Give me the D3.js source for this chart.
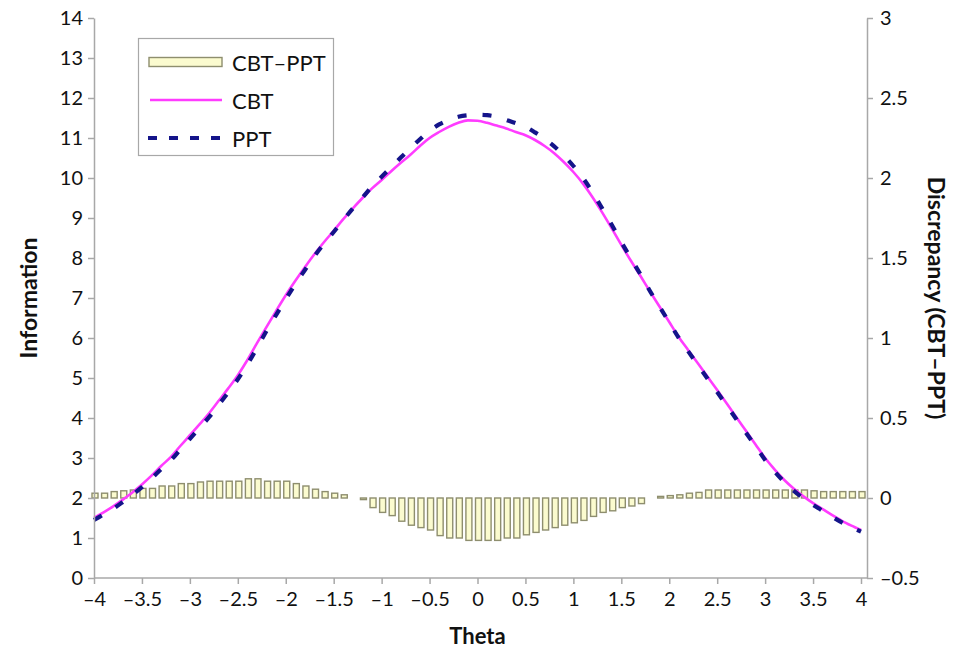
<!DOCTYPE html>
<html>
<head>
<meta charset="utf-8">
<script src="https://cdn.jsdelivr.net/npm/d3@7"></script>
<style>
  html, body { margin: 0; padding: 0; background: #fff; }
  svg { display: block; }
  text { font-family: "Lato", "Open Sans", sans-serif; fill: #111; }
</style>
</head>
<body>
<svg id="chart" width="959" height="654"></svg>
<script>
// Theta grid (step 0.1 from -4 to 4)
const theta = [
  -4.0,-3.9,-3.8,-3.7,-3.6,-3.5,-3.4,-3.3,-3.2,-3.1,
  -3.0,-2.9,-2.8,-2.7,-2.6,-2.5,-2.4,-2.3,-2.2,-2.1,
  -2.0,-1.9,-1.8,-1.7,-1.6,-1.5,-1.4,-1.3,-1.2,-1.1,
  -1.0,-0.9,-0.8,-0.7,-0.6,-0.5,-0.4,-0.3,-0.2,-0.1,
   0.0, 0.1, 0.2, 0.3, 0.4, 0.5, 0.6, 0.7, 0.8, 0.9,
   1.0, 1.1, 1.2, 1.3, 1.4, 1.5, 1.6, 1.7, 1.8, 1.9,
   2.0, 2.1, 2.2, 2.3, 2.4, 2.5, 2.6, 2.7, 2.8, 2.9,
   3.0, 3.1, 3.2, 3.3, 3.4, 3.5, 3.6, 3.7, 3.8, 3.9, 4.0
];

// Test information, computer-based test
const cbt = [
  1.50,1.64,1.79,1.96,2.14,2.34,2.56,2.80,3.02,3.30,
  3.57,3.84,4.12,4.43,4.74,5.07,5.45,5.87,6.28,6.68,
  7.07,7.43,7.77,8.10,8.40,8.68,8.97,9.24,9.50,9.74,
  9.95,10.17,10.38,10.58,10.80,11.00,11.15,11.28,11.38,11.44,
  11.43,11.38,11.31,11.24,11.15,11.07,10.95,10.80,10.62,10.40,
  10.15,9.86,9.52,9.14,8.74,8.33,7.93,7.55,7.16,6.78,
  6.40,6.02,5.69,5.36,5.03,4.70,4.36,4.02,3.68,3.34,
  3.00,2.71,2.45,2.23,2.04,1.87,1.72,1.57,1.43,1.31,1.20
];

// Test information, paper-and-pencil test
const ppt = [
  1.45,1.59,1.73,1.90,2.08,2.27,2.49,2.72,2.94,3.21,
  3.48,3.75,4.02,4.33,4.64,4.97,5.34,5.75,6.18,6.58,
  6.97,7.35,7.70,8.05,8.36,8.65,8.95,9.24,9.51,9.79,
  10.03,10.27,10.51,10.74,10.97,11.18,11.34,11.45,11.53,11.57,
  11.58,11.57,11.53,11.45,11.37,11.28,11.14,10.98,10.79,10.56,
  10.30,10.00,9.64,9.24,8.83,8.40,7.99,7.59,7.17,6.78,
  6.39,6.00,5.66,5.32,4.98,4.65,4.31,3.97,3.63,3.30,
  2.95,2.66,2.40,2.18,1.99,1.83,1.68,1.53,1.39,1.27,1.16
];

// Discrepancy CBT–PPT (right axis)
const discrepancy = [
  0.03,0.03,0.04,0.045,0.05,0.06,0.06,0.075,0.075,0.09,
  0.09,0.10,0.105,0.105,0.105,0.105,0.12,0.12,0.105,0.105,
  0.105,0.09,0.075,0.055,0.04,0.03,0.02,0,-0.01,-0.06,
  -0.09,-0.11,-0.145,-0.17,-0.185,-0.20,-0.235,-0.25,-0.25,-0.265,
  -0.265,-0.265,-0.265,-0.25,-0.25,-0.23,-0.215,-0.20,-0.185,-0.17,
  -0.155,-0.14,-0.115,-0.09,-0.08,-0.06,-0.05,-0.035,0,0.01,
  0.015,0.02,0.03,0.035,0.05,0.05,0.05,0.05,0.05,0.05,
  0.05,0.05,0.05,0.05,0.05,0.045,0.04,0.04,0.04,0.04,0.04
];

// Axis ticks
const xTicks = [-4,-3.5,-3,-2.5,-2,-1.5,-1,-0.5,0,0.5,1,1.5,2,2.5,3,3.5,4];
const yLeftTicks = [0,1,2,3,4,5,6,7,8,9,10,11,12,13,14];
const yRightTicks = [-0.5,0,0.5,1,1.5,2,2.5,3];

const legendItems = ["CBT–PPT", "CBT", "PPT"];

const svg = d3.select("#chart");
const plotLeft = 94, plotRight = 867, plotTop = 18, plotBottom = 578;

const x = d3.scaleLinear().domain([-4, 4]).range([plotLeft, 861]);
const yL = d3.scaleLinear().domain([0, 14]).range([plotBottom, plotTop]);
const yR = d3.scaleLinear().domain([-0.5, 3]).range([plotBottom, plotTop]);

const fmt = v => (v < 0 ? "\u2013" + Math.abs(v) : String(v));
const axisColor = "#a8a8a8";

// Discrepancy bars
const barW = 6;
svg.append("g")
  .selectAll("rect")
  .data(theta.map((t, i) => ({ t, v: discrepancy[i] })))
  .join("rect")
  .attr("x", d => x(d.t) - barW / 2 + 1)
  .attr("y", d => Math.min(yR(d.v), yR(0)))
  .attr("width", barW)
  .attr("height", d => Math.abs(yR(d.v) - yR(0)))
  .attr("fill", "#fbfbcf")
  .attr("stroke", "#8e8e6e")
  .attr("stroke-width", 1.4);

// Information curves
const line = d3.line().x(d => x(d[0])).y(d => yL(d[1])).curve(d3.curveMonotoneX);

svg.append("path")
  .datum(theta.map((t, i) => [t, cbt[i]]))
  .attr("d", line)
  .attr("fill", "none")
  .attr("stroke", "#ff3cff")
  .attr("stroke-width", 2.6);

svg.append("path")
  .datum(theta.map((t, i) => [t, ppt[i]]))
  .attr("d", line)
  .attr("fill", "none")
  .attr("stroke", "#14148a")
  .attr("stroke-width", 4.2)
  .attr("stroke-dasharray", "9,16");

// Axes
function styleAxis(g) {
  g.select(".domain").attr("stroke", axisColor).attr("stroke-width", 1.5);
  g.selectAll(".tick line").attr("stroke", axisColor).attr("stroke-width", 1.5);
  g.selectAll(".tick text").attr("font-size", 20).attr("fill", "#111");
}

svg.append("g")
  .attr("transform", `translate(0,${plotBottom})`)
  .call(d3.axisBottom(x).tickValues(xTicks).tickFormat(fmt).tickSize(6).tickPadding(8).tickSizeOuter(0))
  .call(styleAxis)
  .call(g => g.select(".domain").attr("d", `M${plotLeft},0H${plotRight}`));

svg.append("g")
  .attr("transform", `translate(${plotLeft},0)`)
  .call(d3.axisLeft(yL).tickValues(yLeftTicks).tickFormat(fmt).tickSize(6).tickPadding(5).tickSizeOuter(0))
  .call(styleAxis);

svg.append("g")
  .attr("transform", `translate(${plotRight},0)`)
  .call(d3.axisRight(yR).tickValues(yRightTicks).tickFormat(fmt).tickSize(6).tickPadding(7).tickSizeOuter(0))
  .call(styleAxis);

// Axis titles
svg.append("text")
  .attr("transform", `translate(28,${(plotTop + plotBottom) / 2}) rotate(-90)`)
  .attr("text-anchor", "middle").attr("dominant-baseline", "central")
  .attr("font-size", 23).attr("font-weight", "bold")
  .text("Information");

svg.append("text")
  .attr("transform", `translate(937,${(plotTop + plotBottom) / 2}) rotate(90)`)
  .attr("text-anchor", "middle").attr("dominant-baseline", "central")
  .attr("font-size", 23).attr("font-weight", "bold")
  .text("Discrepancy (CBT\u2013PPT)");

svg.append("text")
  .attr("x", x(0)).attr("y", 644)
  .attr("text-anchor", "middle")
  .attr("font-size", 22).attr("font-weight", "bold")
  .text("Theta");

// Legend
const lg = svg.append("g");
lg.append("rect")
  .attr("x", 138.5).attr("y", 38.5).attr("width", 195).attr("height", 117)
  .attr("fill", "#fff").attr("stroke", "#a8a8a8").attr("stroke-width", 1.2);

const rowY = [62, 100, 138];
lg.append("rect")
  .attr("x", 149).attr("y", rowY[0] - 4.5).attr("width", 73).attr("height", 9)
  .attr("fill", "#fbfbcf").attr("stroke", "#8e8e6e").attr("stroke-width", 1.4);
lg.append("line")
  .attr("x1", 150).attr("x2", 222).attr("y1", rowY[1]).attr("y2", rowY[1])
  .attr("stroke", "#ff3cff").attr("stroke-width", 2.6);
lg.append("line")
  .attr("x1", 148).attr("x2", 224).attr("y1", rowY[2]).attr("y2", rowY[2])
  .attr("stroke", "#14148a").attr("stroke-width", 4.2).attr("stroke-dasharray", "9,12");

lg.selectAll("text.lbl")
  .data(legendItems)
  .join("text")
  .attr("class", "lbl")
  .attr("x", 232)
  .attr("y", (d, i) => rowY[i])
  .attr("dominant-baseline", "central")
  .attr("font-size", 22)
  .text(d => d);
</script>
</body>
</html>
